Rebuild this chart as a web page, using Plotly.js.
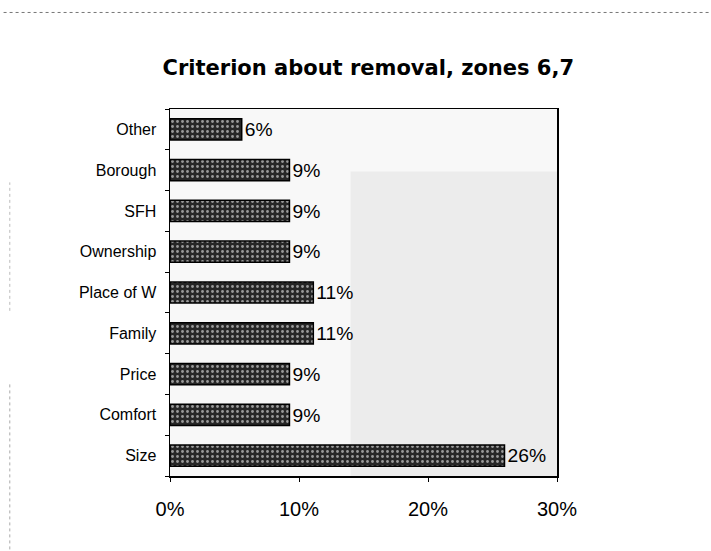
<!DOCTYPE html>
<html>
<head>
<meta charset="utf-8">
<script src="https://cdn.plot.ly/plotly-3.0.1.min.js"></script>
<style>html,body{margin:0;padding:0;background:#fff;}#chart{width:711px;height:551px;}</style>
</head>
<body>
<div id="chart"></div>
<script>
// Categories listed bottom-to-top (Plotly draws the first category at the bottom)
const categories = ["Size", "Comfort", "Price", "Family", "Place of W", "Ownership", "SFH", "Borough", "Other"];
const shares = [25.93, 9.26, 9.26, 11.11, 11.11, 9.26, 9.26, 9.26, 5.56];
const valueLabels = ["26%", "9%", "9%", "11%", "11%", "9%", "9%", "9%", "6%"];
const xTickVals = [0, 10, 20, 30];
const xTickText = ["0%", "10%", "20%", "30%"];

const trace = {
  type: "bar",
  orientation: "h",
  y: categories,
  x: shares,
  text: valueLabels,
  textposition: "outside",
  cliponaxis: false,
  textfont: {family: "Liberation Sans, Arial, sans-serif", size: 20, color: "#000"},
  width: 0.52,
  marker: {
    color: "#2a2a2a",
    line: {color: "#000", width: 1.5},
    pattern: {shape: ".", bgcolor: "#262626", fgcolor: "#9a9a9a", size: 5, solidity: 0.25}
  },
  hoverinfo: "skip"
};

const layout = {
  width: 711,
  height: 551,
  margin: {l: 170, r: 154, t: 109, b: 75},
  paper_bgcolor: "#ffffff",
  plot_bgcolor: "#f8f8f8",
  showlegend: false,
  font: {family: "Liberation Sans, Arial, sans-serif", color: "#000"},
  title: {
    text: "<b>Criterion about removal, zones 6,7</b>",
    font: {family: "DejaVu Sans, sans-serif", size: 21, color: "#000"},
    x: 0.518, xanchor: "center",
    y: 0.877, yanchor: "middle"
  },
  xaxis: {
    range: [0, 30],
    tickvals: xTickVals,
    ticktext: xTickText,
    ticks: "outside",
    ticklen: 4,
    tickcolor: "#000",
    showgrid: false,
    zeroline: false,
    showline: true,
    linecolor: "#000",
    linewidth: 1.5,
    mirror: true,
    tickfont: {size: 20, color: "#000"},
    ticklabelstandoff: 10,
    fixedrange: true
  },
  yaxis: {
    type: "category",
    ticks: "outside",
    tickson: "boundaries",
    ticklen: 4,
    tickcolor: "#000",
    showgrid: false,
    showline: true,
    linecolor: "#000",
    linewidth: 1.5,
    mirror: true,
    tickfont: {size: 16, color: "#000"},
    ticklabelstandoff: 9,
    fixedrange: true
  },
  shapes: [
    {type: "rect", layer: "below", xref: "x", yref: "paper", x0: 14, x1: 30, y0: 0, y1: 0.83,
     fillcolor: "#ececec", line: {width: 0}},
    {type: "line", xref: "paper", yref: "paper", x0: -0.43, x1: 1.4, y0: 1.263, y1: 1.263,
     line: {color: "#777", width: 1, dash: "dot"}},
    {type: "line", xref: "paper", yref: "paper", x0: -0.414, x1: -0.414, y0: -0.2, y1: 0.25,
     line: {color: "#aaa", width: 1, dash: "dot"}},
    {type: "line", xref: "paper", yref: "paper", x0: -0.414, x1: -0.414, y0: 0.45, y1: 0.8,
     line: {color: "#bbb", width: 1, dash: "dot"}}
  ]
};

Plotly.newPlot("chart", [trace], layout, {displayModeBar: false, staticPlot: true});
</script>
</body>
</html>
